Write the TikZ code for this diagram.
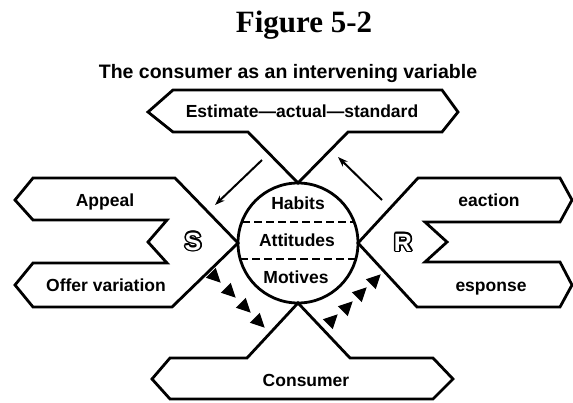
\documentclass[tikz,border=0pt]{standalone}
\usepackage{fontspec}
\usetikzlibrary{arrows.meta,calc}
\newfontfamily\tms{Liberation Serif}
\newfontfamily\hvy{Liberation Sans Bold}
\tikzset{
  outl/.style={line width=2.8pt, line join=miter, draw=black},
  lbl/.style={anchor=base, inner sep=0pt, font=\hvy\fontsize{17.5}{20}\selectfont},
  sep/.style={line width=2pt, dash pattern=on 8pt off 4pt},
  thinarrow/.style={line width=2pt, -{Stealth[length=10pt,width=7pt]}},
  tri/.style={fill=black},
  bigletter/.style={anchor=base, inner sep=0pt, font=\hvy\fontsize{25}{28}\selectfont}
}
\newcommand{\olcopy}[3]{\rlap{\hspace*{#1pt}\raisebox{#2pt}{#3}}}
\newcommand{\outlinedtext}[1]{%
  \olcopy{1.6}{0}{#1}\olcopy{1.39}{0.8}{#1}\olcopy{0.8}{1.39}{#1}%
  \olcopy{0}{1.6}{#1}\olcopy{-0.8}{1.39}{#1}\olcopy{-1.39}{0.8}{#1}%
  \olcopy{-1.6}{0}{#1}\olcopy{-1.39}{-0.8}{#1}\olcopy{-0.8}{-1.39}{#1}%
  \olcopy{0}{-1.6}{#1}\olcopy{0.8}{-1.39}{#1}\olcopy{1.39}{-0.8}{#1}%
  \textcolor{white}{#1}}
\begin{document}
\begin{tikzpicture}[x=1pt,y=-1pt]
\useasboundingbox (0,0) rectangle (573,402);
% title
\node[anchor=base, inner sep=0pt, font=\tms\bfseries\fontsize{31}{34}\selectfont] (title) at (304,32) {Figure 5-2};
\node[anchor=base, inner sep=0pt, font=\hvy\fontsize{19.5}{22}\selectfont] (sub) at (288,78) {The consumer as an intervening variable};
% circle
\coordinate (c) at (298,243);
\node[circle, draw, line width=2.8pt, minimum size=120pt, inner sep=0pt] (circ) at (c) {};
\coordinate (ct) at (298,183);
\coordinate (cb) at (298,303);
\coordinate (cl) at (238,243);
\coordinate (cr) at (358,243);
% top shape
\draw[outl] (ct) -- (248,132) -- (173,132) -- (148,112) -- (173,90) -- (442,90) -- (458,112) -- (442,132) -- (348,132) -- cycle;
% left shape
\draw[outl] (cl) -- (175,178) -- (33,178) -- (15,200) -- (33,220) -- (167,220) -- (148,242) -- (167,263) -- (33,263) -- (15,285) -- (33,307) -- (172,307) -- cycle;
% right shape
\draw[outl] (cr) -- (418,178) -- (560,178) -- (572,200) -- (560,222) -- (425,222) -- (447,242) -- (425,262) -- (560,262) -- (572,285) -- (560,307) -- (417,307) -- cycle;
% bottom shape
\draw[outl] (cb) -- (247,358) -- (170,358) -- (152,379) -- (170,399) -- (433,399) -- (453,379) -- (433,358) -- (350,358) -- cycle;
% dashed separators
\draw[sep] (242,222) -- (354,222);
\draw[sep] (240,259) -- (356,259);
% labels
\node[lbl] (est) at (302,117) {Estimate—actual—standard};
\node[lbl] (app) at (105,206) {Appeal};
\node[lbl] (off) at (106,291) {Offer variation};
\node[lbl] (rea) at (489,206) {eaction};
\node[lbl] (res) at (491,291) {esponse};
\node[lbl] (con) at (306,386) {Consumer};
\node[lbl] (hab) at (298,209) {Habits};
\node[lbl] (att) at (297,246) {Attitudes};
\node[lbl] (mot) at (296,283) {Motives};
% S and R
\node[bigletter] (S) at (193,250) {\outlinedtext{S}};
\node[bigletter] (R) at (403,251) {\outlinedtext{R}};
% thin arrows
\coordinate (a1s) at (262,160);
\coordinate (a1e) at (215,205);
\coordinate (a2s) at (382,200);
\coordinate (a2e) at (338,157);
\draw[thinarrow] (a1s) -- (a1e);
\draw[thinarrow] (a2s) -- (a2e);
% triangle chains
\foreach \x/\y in {215/277, 230/292, 245/307, 259/322}
  \fill[tri, shift={(\x,\y)}, rotate=-45] (8,0) -- (-6,7) -- (-6,-7) -- cycle;
\foreach \x/\y in {332/320, 347/307, 361/293, 375/280}
  \fill[tri, shift={(\x,\y)}, rotate=45] (8,0) -- (-6,7) -- (-6,-7) -- cycle;
\end{tikzpicture}
\end{document}
